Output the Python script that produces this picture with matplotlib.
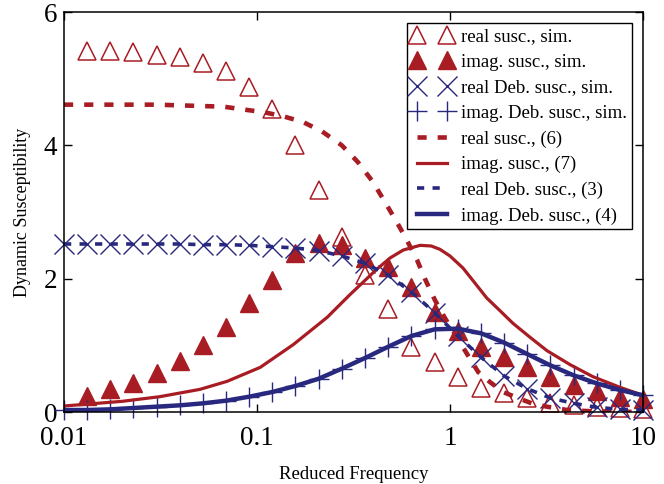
import matplotlib
matplotlib.use('Agg')
import matplotlib.pyplot as plt
from matplotlib.ticker import FixedLocator, NullLocator

plt.rcParams['font.family'] = ['Liberation Serif', 'DejaVu Serif']

# simulation points (red triangles)
freq_sim = [0.0132, 0.0174, 0.0229, 0.0302, 0.0398, 0.0525, 0.0692, 0.0912, 0.120, 0.158,
            0.209, 0.275, 0.363, 0.479, 0.631, 0.832, 1.10, 1.45, 1.91, 2.51,
            3.31, 4.37, 5.75, 7.59, 10.0]
real_sim = [5.42, 5.42, 5.40, 5.36, 5.32, 5.24, 5.11, 4.88, 4.54, 4.01,
            3.33, 2.63, 2.05, 1.55, 0.97, 0.75, 0.53, 0.36, 0.28, 0.21,
            0.13, 0.11, 0.08, 0.06, 0.05]
imag_sim = [0.24, 0.35, 0.44, 0.59, 0.77, 1.01, 1.28, 1.64, 1.98, 2.38,
            2.53, 2.50, 2.31, 2.18, 1.88, 1.50, 1.21, 0.98, 0.82, 0.67,
            0.52, 0.41, 0.31, 0.23, 0.20]

# Debye simulation points (blue)
freq_deb = [0.01, 0.0132, 0.0174, 0.0229, 0.0302, 0.0398, 0.0525, 0.0692, 0.0912, 0.120,
            0.158, 0.209, 0.275, 0.363, 0.479, 0.631, 0.832, 1.10, 1.45, 1.91,
            2.51, 3.31, 4.37, 5.75, 7.59, 10.0]
real_deb_sim = [2.52, 2.52, 2.52, 2.52, 2.52, 2.52, 2.51, 2.51, 2.50, 2.48,
                2.46, 2.42, 2.34, 2.23, 2.05, 1.80, 1.49, 1.14, 0.82, 0.54,
                0.35, 0.21, 0.13, 0.07, 0.04, 0.03]
imag_deb_sim = [0.03, 0.03, 0.04, 0.06, 0.08, 0.10, 0.13, 0.17, 0.23, 0.30,
                0.39, 0.50, 0.65, 0.81, 0.98, 1.14, 1.24, 1.25, 1.18, 1.04,
                0.87, 0.70, 0.55, 0.43, 0.33, 0.25]

# theory curves
freq_re6 = [0.01, 0.03, 0.067, 0.089, 0.107, 0.135, 0.173, 0.217, 0.275, 0.333,
            0.399, 0.46, 0.53, 0.597, 0.675, 0.741, 0.835, 0.941, 1.087, 1.22,
            1.40, 1.61, 1.88, 2.25, 2.65, 3.17, 4.03, 5.5, 10.0]
real_eq6 = [4.61, 4.61, 4.58, 4.53, 4.50, 4.44, 4.35, 4.21, 4.00, 3.75,
            3.45, 3.15, 2.85, 2.58, 2.28, 2.00, 1.68, 1.41, 1.12, 0.88,
            0.60, 0.45, 0.30, 0.21, 0.13, 0.08, 0.03, 0.01, 0.0]
freq_im7 = [0.01, 0.02, 0.0314, 0.0507, 0.070, 0.104, 0.154, 0.231, 0.303, 0.417,
            0.489, 0.573, 0.70, 0.80, 0.887, 1.0, 1.167, 1.35, 1.55, 1.8,
            2.12, 2.60, 3.18, 4.19, 5.5, 7.6, 10.0]
imag_eq7 = [0.09, 0.16, 0.23, 0.34, 0.46, 0.67, 1.01, 1.42, 1.76, 2.14,
            2.31, 2.43, 2.50, 2.49, 2.44, 2.34, 2.16, 1.93, 1.71, 1.53,
            1.33, 1.12, 0.92, 0.71, 0.53, 0.37, 0.25]
real_eq3 = [2.52, 2.52, 2.52, 2.52, 2.52, 2.52, 2.51, 2.51, 2.50, 2.48,
            2.46, 2.42, 2.34, 2.23, 2.05, 1.80, 1.49, 1.14, 0.82, 0.54,
            0.35, 0.21, 0.13, 0.07, 0.04, 0.03]
imag_eq4 = [0.03, 0.03, 0.04, 0.06, 0.08, 0.10, 0.13, 0.17, 0.23, 0.30,
            0.39, 0.50, 0.65, 0.81, 0.98, 1.14, 1.24, 1.25, 1.18, 1.04,
            0.87, 0.70, 0.55, 0.43, 0.33, 0.25]

red = '#A81C24'
blue = '#29287F'

fig = plt.figure(figsize=(6.64, 4.84), dpi=100)
ax = fig.add_axes([64/664, 1-412/484, 579/664, 400/484])

ax.plot(freq_sim, real_sim, ls='none', marker='^', ms=13, mfc='none', mec=red, mew=1.1,
        clip_on=False, label='real susc., sim.')
ax.plot(freq_sim, imag_sim, ls='none', marker='^', ms=13, mfc=red, mec=red, mew=1.0,
        clip_on=False, label='imag. susc., sim.')
ax.plot(freq_deb, real_deb_sim, ls='none', marker='x', ms=14, mec=blue, mew=1.0,
        clip_on=False, label='real Deb. susc., sim.')
ax.plot(freq_deb, imag_deb_sim, ls='none', marker='+', ms=14, mec=blue, mew=1.0,
        clip_on=False, label='imag. Deb. susc., sim.')

ax.plot(freq_re6, real_eq6, color=red, lw=3.3, ls=(0, (2.0, 2.4)), label='real susc., (6)')
ax.plot(freq_im7, imag_eq7, color=red, lw=2.3, label='imag. susc., (7)')
ax.plot(freq_deb, real_eq3, color=blue, lw=2.6, ls=(0, (2.0, 2.3)), label='real Deb. susc., (3)')
ax.plot(freq_deb, imag_eq4, color=blue, lw=3.2, label='imag. Deb. susc., (4)')

ax.set_xscale('log')
ax.set_xlim(0.01, 10)
ax.set_ylim(0, 6)
ax.xaxis.set_major_locator(FixedLocator([0.01, 0.1, 1, 10]))
ax.xaxis.set_minor_locator(NullLocator())
ax.set_xticklabels(['0.01', '0.1', '1', '10'])
ax.set_yticks([0, 2, 4, 6])
ax.tick_params(direction='in', length=6, width=1, top=True, right=True, labelsize=19.5)
ax.tick_params(axis='x', pad=10)
ax.tick_params(axis='y', pad=5)
for s in ax.spines.values():
    s.set_linewidth(1.1)

ax.set_xlabel('Reduced Frequency', fontsize=13.5, labelpad=11)
ax.set_ylabel('Dynamic Susceptibility', fontsize=13, labelpad=9)

leg = ax.legend(loc='upper right', numpoints=2, fontsize=13.5, frameon=True, fancybox=False,
                edgecolor='black', framealpha=1, borderpad=0.25, labelspacing=0.45,
                handlelength=2.2, handletextpad=0.45, borderaxespad=0.6)
leg.get_frame().set_linewidth(1.0)

fig.savefig('out.png', dpi=100)
